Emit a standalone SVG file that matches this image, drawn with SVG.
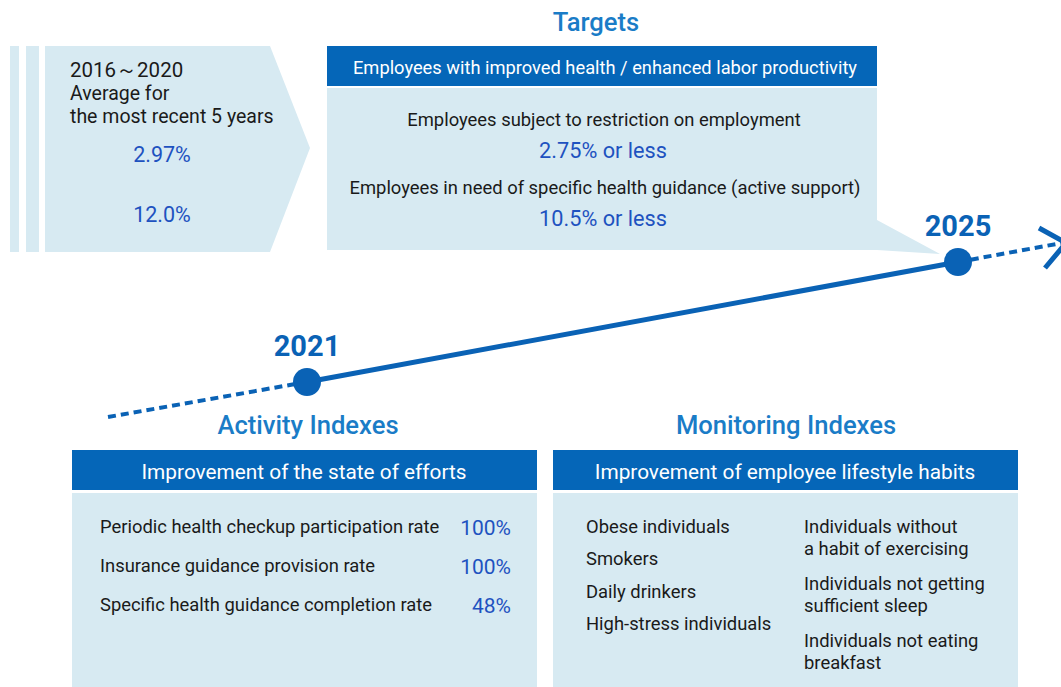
<svg xmlns="http://www.w3.org/2000/svg" width="1061" height="687" viewBox="0 0 1061 687">
<style>
text{font-family:Roboto,"Liberation Sans",sans-serif;}
.lt{fill:#d7eaf2;}
.hd{fill:#0566b8;}
.hdt{fill:#fff;font-size:18.3px;text-anchor:middle;}
.bk{fill:#1a1a1a;font-size:18.4px;}
.bkc{fill:#1a1a1a;font-size:18.4px;text-anchor:middle;}
.val{fill:#1e52c0;font-size:21px;}
.ttl{fill:#1a7cc7;font-size:25.6px;font-weight:500;text-anchor:middle;}
.yr{fill:#0a62b5;font-size:29px;font-weight:700;text-anchor:middle;}
.ln{stroke:#0a62b5;fill:none;}
</style>
<g id="baseline-period">
<rect class="lt" x="10" y="46" width="9" height="206"/>
<rect class="lt" x="26" y="46" width="13" height="206"/>
<polygon class="lt" points="45,46 270,46 310,148 270,252 45,252"/>
<text class="bk" x="70" y="77" style="font-size:20.5px">2016～2020</text>
<text class="bk" x="70" y="100" style="font-size:19.5px">Average for</text>
<text class="bk" x="70" y="123" style="font-size:19.5px">the most recent 5 years</text>
<text class="val" x="162" y="162" text-anchor="middle" style="font-size:21.5px">2.97%</text>
<text class="val" x="162" y="222" text-anchor="middle" style="font-size:21.5px">12.0%</text>
</g>
<g id="targets">
<text class="ttl" x="596" y="31">Targets</text>
<rect class="hd" x="327" y="46" width="550" height="40"/>
<text class="hdt" x="605" y="74">Employees with improved health / enhanced labor productivity</text>
<polygon class="lt" points="327,88 877,88 877,220 940,254 877,250 327,250"/>
<text class="bkc" x="604" y="126">Employees subject to restriction on employment</text>
<text class="val" x="603" y="158" text-anchor="middle" style="font-size:21.7px">2.75% or less</text>
<text class="bkc" x="605" y="194">Employees in need of specific health guidance (active support)</text>
<text class="val" x="603" y="226" text-anchor="middle" style="font-size:21.7px">10.5% or less</text>
</g>
<g id="connectors">
<line class="ln" x1="108" y1="417" x2="307" y2="382" stroke-width="4" stroke-dasharray="8 5"/>
<line class="ln" x1="307" y1="382" x2="958" y2="262" stroke-width="5"/>
<line class="ln" x1="958" y1="262" x2="1062" y2="243" stroke-width="4" stroke-dasharray="8 5"/>
<polyline class="ln" points="1039,228 1066,243 1045,268" stroke-width="5"/>
</g>
<g id="y2021">
<circle cx="307" cy="382" r="14" fill="#0a62b5"/>
<text class="yr" x="307" y="356">2021</text>
</g>
<g id="y2025">
<circle cx="958" cy="262" r="14" fill="#0a62b5"/>
<text class="yr" x="958" y="236">2025</text>
</g>
<g id="activity">
<text class="ttl" x="308" y="434">Activity Indexes</text>
<rect class="hd" x="72" y="450" width="465" height="40"/>
<text class="hdt" x="304" y="479" style="font-size:20.8px">Improvement of the state of efforts</text>
<rect class="lt" x="72" y="493" width="465" height="194"/>
<text class="bk" x="100" y="533">Periodic health checkup participation rate</text>
<text class="bk" x="100" y="572">Insurance guidance provision rate</text>
<text class="bk" x="100" y="611">Specific health guidance completion rate</text>
<text class="val" x="511" y="535" text-anchor="end">100%</text>
<text class="val" x="511" y="574" text-anchor="end">100%</text>
<text class="val" x="511" y="613" text-anchor="end">48%</text>
</g>
<g id="monitoring">
<text class="ttl" x="786" y="434">Monitoring Indexes</text>
<rect class="hd" x="553" y="450" width="465" height="40"/>
<text class="hdt" x="785" y="479" style="font-size:20.8px">Improvement of employee lifestyle habits</text>
<rect class="lt" x="553" y="493" width="465" height="194"/>
<text class="bk" x="586" y="533">Obese individuals</text>
<text class="bk" x="586" y="565">Smokers</text>
<text class="bk" x="586" y="598">Daily drinkers</text>
<text class="bk" x="586" y="630">High-stress individuals</text>
<text class="bk" x="804" y="533">Individuals without</text>
<text class="bk" x="804" y="555">a habit of exercising</text>
<text class="bk" x="804" y="590">Individuals not getting</text>
<text class="bk" x="804" y="612">sufficient sleep</text>
<text class="bk" x="804" y="647">Individuals not eating</text>
<text class="bk" x="804" y="669">breakfast</text>
</g>
</svg>
